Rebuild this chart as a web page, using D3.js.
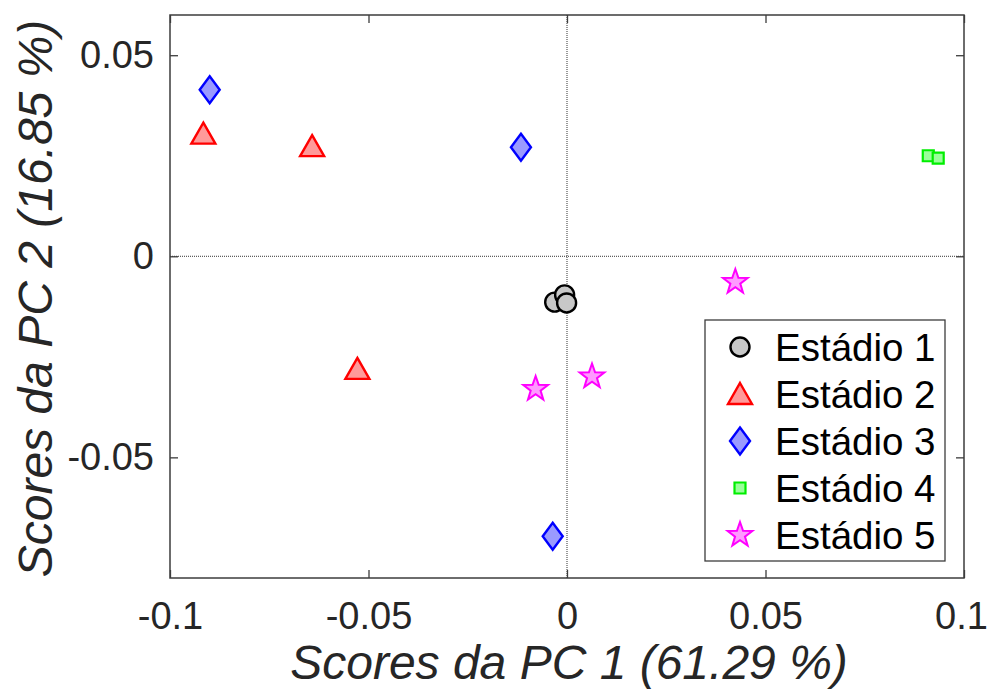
<!DOCTYPE html>
<html>
<head>
<meta charset="utf-8">
<script src="https://cdn.jsdelivr.net/npm/d3@7"></script>
<style>
  html, body { margin: 0; padding: 0; background: #ffffff; }
  svg { display: block; font-family: "Liberation Sans", Arial, Helvetica, sans-serif; }
</style>
</head>
<body>
<svg id="chart" width="988" height="689"></svg>
<script>
// PCA scores per maturation stage
const stages = ["Estádio 1", "Estádio 2", "Estádio 3", "Estádio 4", "Estádio 5"];

const stage1 = [[-0.0031, -0.0114], [-0.0006, -0.0096], [-0.0001, -0.0116]];
const stage2 = [[-0.0916, 0.0305], [-0.0642, 0.0274], [-0.0528, -0.0280]];
const stage3 = [[-0.0900, 0.0414], [-0.0116, 0.0271], [-0.0036, -0.0696]];
const stage4 = [[0.0910, 0.0250], [0.0935, 0.0244]];
const stage5 = [[0.0424, -0.0064], [-0.0079, -0.0330], [0.0063, -0.0299]];

const xTicks = [-0.1, -0.05, 0, 0.05, 0.1];
const yTicks = [-0.05, 0, 0.05];
const xTickLabels = ["-0.1", "-0.05", "0", "0.05", "0.1"];
const yTickLabels = ["-0.05", "0", "0.05"];

const xLabel = "Scores da PC 1 (61.29 %)";
const yLabel = "Scores da PC 2 (16.85 %)";

// marker glyphs (path around 0,0)
const shapes = {
  circle: () => { const r = 9.5; return `M${r},0A${r},${r} 0 1,1 ${-r},0A${r},${r} 0 1,1 ${r},0Z`; },
  triangle: () => "M0,-11L12,10L-12,10Z",
  diamond: () => "M0,-13.5L10,0L0,13.5L-10,0Z",
  square: () => "M-5.5,-5.5L5.5,-5.5L5.5,5.5L-5.5,5.5Z",
  star: () => {
    const pts = [];
    for (let i = 0; i < 10; i++) {
      const r = i % 2 === 0 ? 13 : 5.2;
      const a = -Math.PI / 2 + i * Math.PI / 5;
      pts.push([r * Math.cos(a), r * Math.sin(a)]);
    }
    return "M" + pts.map(p => p[0].toFixed(2) + "," + p[1].toFixed(2)).join("L") + "Z";
  }
};

const series = [
  { name: stages[0], data: stage1, shape: "circle",   stroke: "#000000", fill: "#c8c8c8", sw: 2.4 },
  { name: stages[1], data: stage2, shape: "triangle", stroke: "#ff0000", fill: "#ff9a9a", sw: 2.4 },
  { name: stages[2], data: stage3, shape: "diamond",  stroke: "#0000ff", fill: "#9a9aff", sw: 2.4 },
  { name: stages[3], data: stage4, shape: "square",   stroke: "#00ee00", fill: "#9aff9a", sw: 2.2 },
  { name: stages[4], data: stage5, shape: "star",     stroke: "#ff00ff", fill: "#ff9aff", sw: 2.0 }
];

const svg = d3.select("#chart");
const plot = { left: 170, right: 964, top: 15, bottom: 578 };

const x = d3.scaleLinear().domain([-0.1, 0.1]).range([plot.left, plot.right]);
const y = d3.scaleLinear().domain([-0.08, 0.06]).range([plot.bottom, plot.top]);

const axisColor = "#3c3c3c";
const tickLen = 8;

// zero reference lines
svg.append("line")
  .attr("x1", x(0)).attr("x2", x(0))
  .attr("y1", plot.top).attr("y2", plot.bottom)
  .attr("stroke", "#333").attr("stroke-width", 1).attr("stroke-dasharray", "1,1");
svg.append("line")
  .attr("x1", plot.left).attr("x2", plot.right)
  .attr("y1", y(0)).attr("y2", y(0))
  .attr("stroke", "#333").attr("stroke-width", 1).attr("stroke-dasharray", "1,1");

// axes with inward ticks on all four sides
const fmtX = (d, i) => xTickLabels[i];
const fmtY = (d, i) => yTickLabels[i];

const gBottom = svg.append("g").attr("transform", `translate(0,${plot.bottom})`)
  .call(d3.axisBottom(x).tickValues(xTicks).tickFormat(fmtX).tickSizeInner(-tickLen).tickSizeOuter(0).tickPadding(24));
const gTop = svg.append("g").attr("transform", `translate(0,${plot.top})`)
  .call(d3.axisTop(x).tickValues(xTicks).tickFormat("").tickSizeInner(-tickLen).tickSizeOuter(0));
const gLeft = svg.append("g").attr("transform", `translate(${plot.left},0)`)
  .call(d3.axisLeft(y).tickValues(yTicks).tickFormat(fmtY).tickSizeInner(-tickLen).tickSizeOuter(0).tickPadding(16));
const gRight = svg.append("g").attr("transform", `translate(${plot.right},0)`)
  .call(d3.axisRight(y).tickValues(yTicks).tickFormat("").tickSizeInner(-tickLen).tickSizeOuter(0));

[gBottom, gTop, gLeft, gRight].forEach(g => {
  g.select(".domain").remove();
  g.selectAll(".tick line").attr("stroke", axisColor).attr("stroke-width", 1.3);
  g.selectAll(".tick text").attr("fill", "#262626").attr("font-size", 38)
    .attr("font-family", "'Liberation Sans', Arial, sans-serif");
});
gBottom.selectAll(".tick text").attr("dy", "0.71em");
// keep the last x tick label inside the page edge
gBottom.selectAll(".tick text").filter((d, i, n) => i === n.length - 1).attr("dx", -3);

// axes box
svg.append("rect")
  .attr("x", plot.left).attr("y", plot.top)
  .attr("width", plot.right - plot.left).attr("height", plot.bottom - plot.top)
  .attr("fill", "none").attr("stroke", axisColor).attr("stroke-width", 1.5);

// axis labels
svg.append("text")
  .attr("x", (plot.left + plot.right) / 2 + 2).attr("y", 679)
  .attr("text-anchor", "middle").attr("font-size", 48).attr("font-style", "italic")
  .attr("fill", "#262626").text(xLabel);
svg.append("text")
  .attr("transform", `translate(52,${(plot.top + plot.bottom) / 2 + 2}) rotate(-90)`)
  .attr("text-anchor", "middle").attr("font-size", 48).attr("font-style", "italic")
  .attr("fill", "#262626").text(yLabel);

// points
series.forEach(s => {
  svg.append("g").selectAll("path")
    .data(s.data)
    .join("path")
    .attr("d", shapes[s.shape]())
    .attr("transform", d => `translate(${x(d[0])},${y(d[1])})`)
    .attr("fill", s.fill)
    .attr("stroke", s.stroke)
    .attr("stroke-width", s.sw)
    .attr("stroke-linejoin", "miter");
});

// legend
const legend = { left: 705, top: 320, right: 945, bottom: 561 };
svg.append("rect")
  .attr("x", legend.left).attr("y", legend.top)
  .attr("width", legend.right - legend.left).attr("height", legend.bottom - legend.top)
  .attr("fill", "#ffffff").attr("stroke", axisColor).attr("stroke-width", 1.3);

const rowY = i => 347 + i * 47;
const items = svg.append("g").selectAll("g").data(series).join("g")
  .attr("transform", (d, i) => `translate(0,${rowY(i)})`);
items.append("path")
  .attr("d", d => shapes[d.shape]())
  .attr("transform", "translate(740,0)")
  .attr("fill", d => d.fill).attr("stroke", d => d.stroke).attr("stroke-width", d => d.sw);
items.append("text")
  .attr("x", 775).attr("y", 0).attr("dy", "0.36em")
  .attr("font-size", 38.5).attr("fill", "#000")
  .text(d => d.name);
</script>
</body>
</html>
